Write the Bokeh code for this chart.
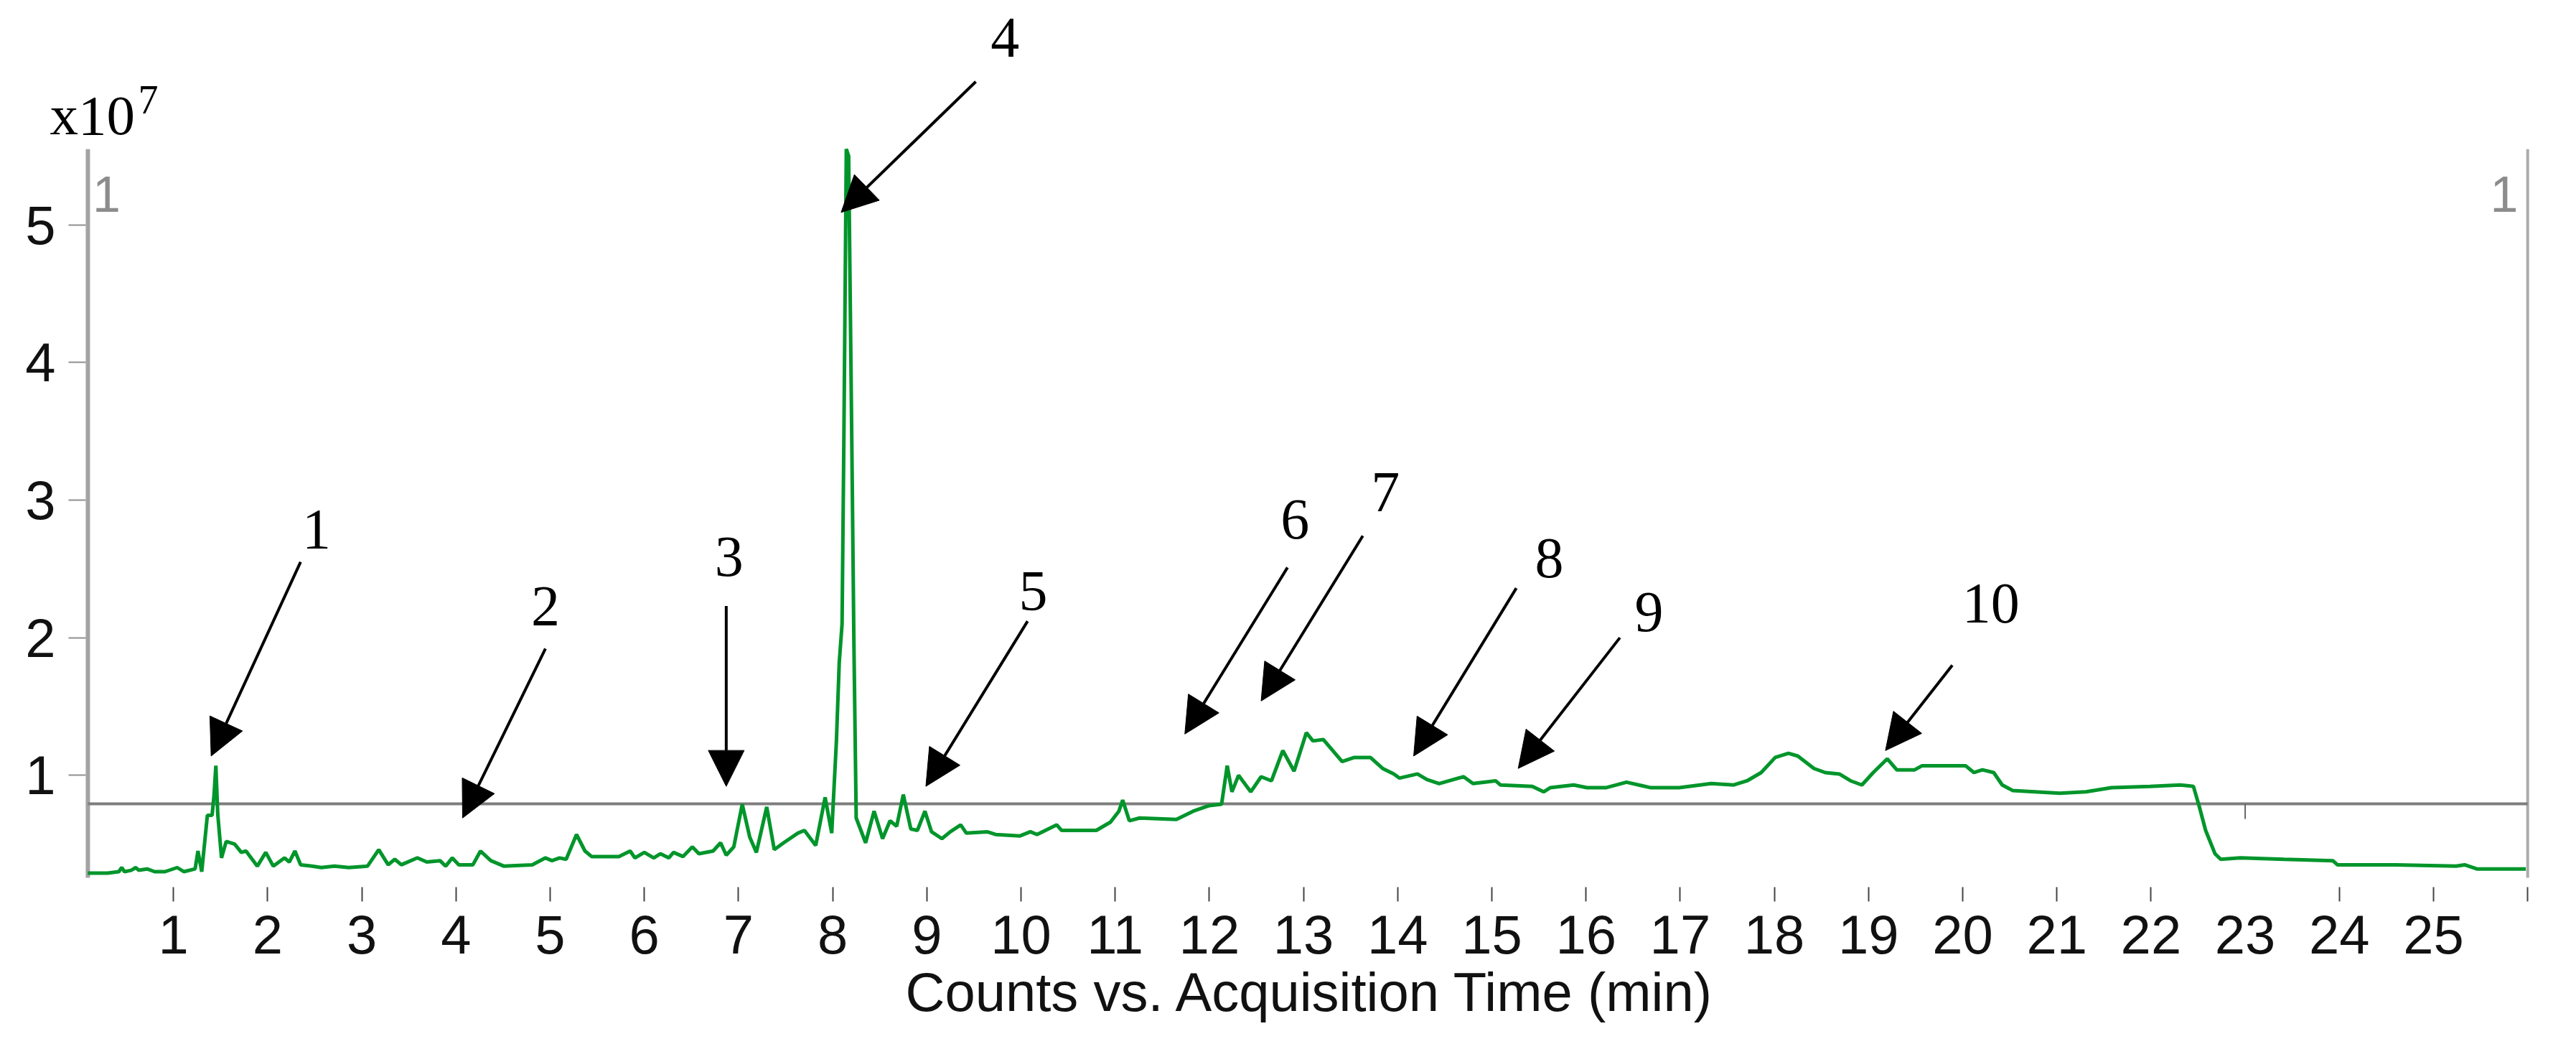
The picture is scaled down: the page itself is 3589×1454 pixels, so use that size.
from bokeh.plotting import figure
from bokeh.models import (FixedTicker, LinearAxis, Range1d, Label, Arrow,
                          NormalHead, ColumnDataSource, LabelSet)
from bokeh.core.properties import value
from bokeh.embed import file_html
from bokeh.resources import INLINE

# ---------------- data (counts in units of 1e7) ----------------
time_min = [0.09, 0.30, 0.42, 0.45, 0.48, 0.55, 0.60, 0.63, 0.72, 0.80, 0.91, 1.04, 1.11,
            1.23, 1.26, 1.30, 1.36, 1.41, 1.43, 1.45, 1.47, 1.51, 1.56, 1.65, 1.72, 1.77,
            1.89, 1.98, 2.06, 2.18, 2.23, 2.29, 2.35, 2.47, 2.57, 2.71, 2.86, 3.06, 3.18,
            3.28, 3.35, 3.42, 3.59, 3.69, 3.83, 3.89, 3.96, 4.03, 4.18, 4.26, 4.37, 4.51,
            4.81, 4.95, 5.02, 5.10, 5.17, 5.28, 5.37, 5.44, 5.73, 5.85, 5.90, 6.00, 6.10,
            6.17, 6.26, 6.31, 6.41, 6.51, 6.58, 6.73, 6.81, 6.87, 6.95, 7.04, 7.12, 7.19,
            7.30, 7.38, 7.48, 7.63, 7.70, 7.82, 7.92, 7.99, 8.04, 8.07, 8.10, 8.12, 8.145,
            8.17, 8.21, 8.225, 8.25, 8.35, 8.44, 8.53, 8.61, 8.68, 8.75, 8.83, 8.90, 8.98,
            9.05, 9.16, 9.25, 9.36, 9.42, 9.64, 9.73, 9.99, 10.10, 10.17, 10.38, 10.43,
            10.80, 10.95, 11.04, 11.08, 11.15, 11.26, 11.65, 11.83, 12.00, 12.13, 12.19,
            12.24, 12.31, 12.44, 12.55, 12.66, 12.78, 12.90, 13.03, 13.10, 13.21, 13.41,
            13.54, 13.71, 13.84, 13.96, 14.02, 14.21, 14.31, 14.44, 14.70, 14.80, 15.04,
            15.09, 15.43, 15.55, 15.62, 15.87, 16.01, 16.21, 16.43, 16.69, 16.99, 17.33,
            17.57, 17.71, 17.86, 18.01, 18.15, 18.25, 18.42, 18.54, 18.69, 18.81, 18.93,
            19.05, 19.20, 19.30, 19.49, 19.57, 20.03, 20.12, 20.21, 20.33, 20.42, 20.53,
            21.03, 21.31, 21.58, 21.99, 22.31, 22.45, 22.51, 22.58, 22.68, 22.74, 22.95,
            23.41, 23.93, 23.98, 24.60, 25.24, 25.33, 25.46, 25.98]
counts_e7 = [0.29, 0.29, 0.30, 0.33, 0.30, 0.31, 0.33, 0.31, 0.32, 0.30, 0.30, 0.33, 0.30,
             0.32, 0.45, 0.30, 0.71, 0.71, 0.85, 1.07, 0.72, 0.40, 0.52, 0.50, 0.44, 0.45,
             0.34, 0.44, 0.34, 0.40, 0.37, 0.45, 0.35, 0.34, 0.33, 0.34, 0.33, 0.34, 0.46,
             0.35, 0.39, 0.35, 0.40, 0.37, 0.38, 0.34, 0.40, 0.35, 0.35, 0.45, 0.38, 0.34,
             0.35, 0.40, 0.38, 0.40, 0.39, 0.57, 0.45, 0.41, 0.41, 0.45, 0.40, 0.44, 0.40,
             0.43, 0.40, 0.44, 0.41, 0.48, 0.43, 0.45, 0.51, 0.42, 0.48, 0.79, 0.55, 0.44,
             0.77, 0.46, 0.51, 0.58, 0.60, 0.49, 0.84, 0.58, 1.25, 1.82, 2.10, 3.50, 5.55,
             5.50, 3.00, 2.00, 0.69, 0.51, 0.74, 0.54, 0.67, 0.63, 0.86, 0.61, 0.60, 0.74,
             0.59, 0.54, 0.59, 0.64, 0.58, 0.59, 0.57, 0.56, 0.59, 0.57, 0.64, 0.60,
             0.60, 0.66, 0.74, 0.82, 0.67, 0.69, 0.68, 0.74, 0.78, 0.79, 1.07,
             0.88, 1.00, 0.88, 0.99, 0.96, 1.18, 1.03, 1.31, 1.25, 1.26, 1.10,
             1.13, 1.13, 1.05, 1.01, 0.98, 1.01, 0.97, 0.94, 0.99, 0.94, 0.96,
             0.93, 0.92, 0.88, 0.91, 0.93, 0.91, 0.91, 0.95, 0.91, 0.91, 0.94,
             0.93, 0.96, 1.02, 1.13, 1.16, 1.14, 1.05, 1.02, 1.01, 0.96, 0.93,
             1.02, 1.12, 1.04, 1.04, 1.07, 1.07, 1.02, 1.04, 1.02, 0.93, 0.89,
             0.87, 0.88, 0.91, 0.92, 0.93, 0.92, 0.78, 0.60, 0.43, 0.39, 0.40,
             0.39, 0.38, 0.35, 0.35, 0.34, 0.35, 0.32, 0.32]

x_tick_labels = list(range(1, 26))                       # labelled minutes
x_tick_marks = [m for m in range(1, 27) if m != 23]      # drawn tick marks
y_ticks = [1, 2, 3, 4, 5]
reference_level = 0.793                                  # grey horizontal line
stray_tick_t = [23]
stray_tick_len = 0.11
panel_t = [0.091, 26.0]                                  # grey vertical borders
panel_v = [0.256, 5.55]
x_axis_level = 0.256
y_axis_time = 0.069

peak_ids = ["1", "2", "3", "4", "5", "6", "7", "8", "9", "10"]
peak_label_t = [2.52, 4.95, 6.90, 9.83, 10.13, 12.91, 13.87, 15.61, 16.67, 20.30]
peak_label_v = [2.65, 2.09, 2.45, 6.22, 2.20, 2.72, 2.92, 2.44, 2.05, 2.11]
arrow_tail_t = [2.35, 4.95, 6.87, 9.52, 10.07, 12.83, 13.63, 15.26, 16.36, 19.89]
arrow_tail_v = [2.55, 1.92, 2.23, 6.04, 2.12, 2.51, 2.74, 2.36, 2.00, 1.80]
arrow_tip_t = [1.40, 4.07, 6.87, 8.09, 8.99, 11.74, 12.55, 14.17, 15.28, 19.18]
arrow_tip_v = [1.14, 0.69, 0.92, 5.09, 0.92, 1.30, 1.54, 1.14, 1.05, 1.18]

# ---------------- figure ----------------
SANS = "Liberation Sans"
p = figure(width=3573, height=1438, x_range=Range1d(-0.8384, 26.395), y_range=Range1d(-0.8712, 6.6306),
           x_axis_type=None, y_axis_type=None, output_backend="svg", toolbar_location=None,
           min_border_left=0, min_border_right=0, min_border_top=0, min_border_bottom=0)
p.outline_line_color = None
p.background_fill_color = "white"
p.border_fill_color = "white"

yax = LinearAxis(ticker=FixedTicker(ticks=y_ticks, minor_ticks=[]), fixed_location=y_axis_time,
                 axis_line_color=None,
                 major_tick_line_color="#8f8f8f", major_tick_line_width=2,
                 major_tick_in=0, major_tick_out=24, minor_tick_line_color=None,
                 major_label_text_font=SANS, major_label_text_font_size="76px",
                 major_label_text_color="#111111", major_label_standoff=18)
p.add_layout(yax, "left")

xax = LinearAxis(ticker=FixedTicker(ticks=x_tick_labels, minor_ticks=x_tick_marks),
                 fixed_location=x_axis_level,
                 axis_line_color=None, major_tick_line_color=None,
                 major_tick_in=0, major_tick_out=33,
                 minor_tick_line_color="#444444", minor_tick_line_width=2,
                 minor_tick_in=-13, minor_tick_out=33,
                 major_label_text_font=SANS, major_label_text_font_size="76px",
                 major_label_text_color="#111111", major_label_standoff=20)
p.add_layout(xax, "below")

# grey left / right borders of the trace panel and the grey level line
p.segment(x0=panel_t, y0=[panel_v[0]] * 2, x1=panel_t, y1=[panel_v[1]] * 2,
          line_color=["#a3a3a3", "#ababab"], line_width=[6, 4])
p.segment(x0=[panel_t[0]], y0=[reference_level], x1=[panel_t[1]], y1=[reference_level],
          line_color="#7d7d7d", line_width=4)
p.segment(x0=stray_tick_t, y0=[reference_level] * len(stray_tick_t),
          x1=stray_tick_t, y1=[reference_level - stray_tick_len] * len(stray_tick_t),
          line_color="#666666", line_width=2)

p.line(time_min, counts_e7, line_color="#00952b", line_width=5)

# axis title
p.add_layout(Label(x=1261, y=1381, x_units="canvas", y_units="canvas",
                   text="Counts vs. Acquisition Time (min)", text_font=SANS,
                   text_font_size="76px", text_color="#111111", text_baseline="alphabetic"))

# grey trace-number labels
p.add_layout(Label(x=0.29, y=5.22, text="1", text_font=SANS, text_font_size="70px",
                   text_color="#8c8c8c", text_align="center", text_baseline="alphabetic"))
p.add_layout(Label(x=25.75, y=5.22, text="1", text_font=SANS, text_font_size="70px",
                   text_color="#8c8c8c", text_align="center", text_baseline="alphabetic"))

# multiplier
p.add_layout(Label(x=69, y=160, x_units="canvas", y_units="canvas", text="x10",
                   text_font="Liberation Serif", text_font_size="79px", text_color="black",
                   text_baseline="alphabetic"))
p.add_layout(Label(x=192, y=138, x_units="canvas", y_units="canvas", text="7",
                   text_font="Liberation Serif", text_font_size="56px", text_color="black",
                   text_baseline="alphabetic"))

# peak annotations
arrow_src = ColumnDataSource(dict(xs=arrow_tail_t, ys=arrow_tail_v, xe=arrow_tip_t, ye=arrow_tip_v))
p.add_layout(Arrow(source=arrow_src, x_start="xs", y_start="ys", x_end="xe", y_end="ye",
                   line_color="black", line_width=4,
                   end=NormalHead(size=50, fill_color="black", line_color="black", line_width=1)))
lab_src = ColumnDataSource(dict(t=peak_label_t, v=peak_label_v, txt=peak_ids))
p.add_layout(LabelSet(source=lab_src, x="t", y="v", text="txt", text_align="center",
                      text_baseline="alphabetic",
                      text_font=value("Liberation Serif"), text_font_size=value("80px"),
                      text_color="black"))

open("out.html", "w").write(file_html(p, INLINE))
